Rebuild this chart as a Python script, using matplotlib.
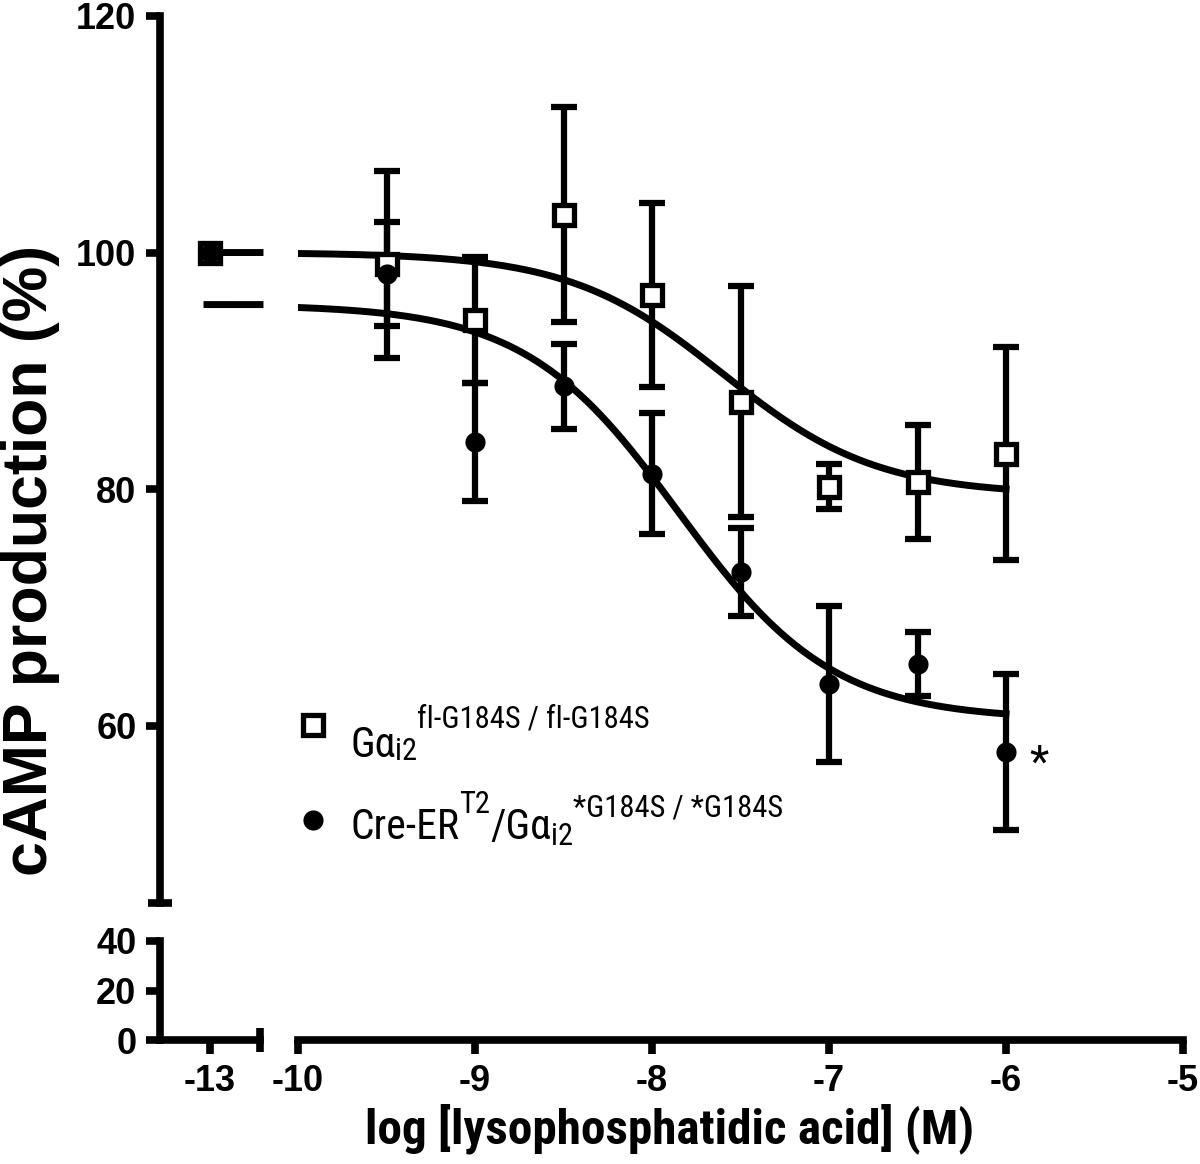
import matplotlib
matplotlib.use("Agg")
import matplotlib.pyplot as plt
import numpy as np
from matplotlib import font_manager

# log [LPA] (M) and cAMP production (%)
log_lpa = [-9.5, -9.0, -8.5, -8.0, -7.5, -7.0, -6.5, -6.0]
basal_x = [-13.0]
basal_y = [100.0]

fl_mean = [99.0, 94.3, 103.2, 96.4, 87.4, 80.2, 80.6, 83.0]
fl_sem = [7.9, 5.3, 9.1, 7.8, 9.8, 1.9, 4.8, 9.0]
cre_mean = [98.2, 84.0, 88.7, 81.3, 73.0, 63.5, 65.2, 57.8]
cre_sem = [4.4, 5.0, 3.6, 5.1, 3.7, 6.6, 2.7, 6.6]

# sigmoid fit: top, bottom, logEC50, hill slope
fl_fit = [100.0, 79.5, -7.6, 1.0]
cre_fit = [95.6, 60.5, -7.85, 1.0]

upper_yticks = [60, 80, 100, 120]
lower_yticks = [0, 20, 40]
left_xticks = [-13]
right_xticks = [-10, -9, -8, -7, -6, -5]

# the labels in the original are set in a narrow sans
names = {f.name for f in font_manager.fontManager.ttflist}
narrow, k = "Liberation Sans", 0.86
for cand in ("Liberation Sans Narrow", "Roboto Condensed"):
    if cand in names:
        narrow, k = cand, 1.0
        break
plt.rcParams["font.family"] = ["Liberation Sans", "DejaVu Sans"]
nfam = [narrow, "DejaVu Sans"]


def sigmoid(x, p):
    top, bottom, ec, h = p
    return bottom + (top - bottom) / (1 + 10 ** ((x - ec) * h))


LW = 5.5
fig = plt.figure(figsize=(12, 11.64), dpi=100)
xl, wl = 160 / 1200, 100 / 1200
xr, wr = 298 / 1200, 885 / 1200
yu, hu = 1 - 903 / 1164, 887 / 1164
yd, hd = 1 - 1040 / 1164, 99 / 1164

ul = fig.add_axes([xl, yu, wl, hu])
ur = fig.add_axes([xr, yu, wr, hu])
ll = fig.add_axes([xl, yd, wl, hd])
lr = fig.add_axes([xr, yd, wr, hd])

for ax in (ul, ll):
    ax.set_xlim(-13.5, -12.5)
for ax in (ur, lr):
    ax.set_xlim(-10, -5)
for ax in (ul, ur):
    ax.set_ylim(45, 120)
for ax in (ll, lr):
    ax.set_ylim(0, 40)

for ax in (ul, ur, ll, lr):
    ax.patch.set_alpha(0)
    for s in ax.spines.values():
        s.set_visible(False)
        s.set_linewidth(LW)
        s.set_capstyle("projecting")
    ax.set_xticks([])
    ax.set_yticks([])
    ax.tick_params(which="both", width=LW, length=10, labelsize=26, pad=7)

tickfont = dict(fontweight="bold")
ul.spines["left"].set_visible(True)
ul.set_yticks(upper_yticks)
ul.set_yticklabels([str(v) for v in upper_yticks], **tickfont)
ul.set_yticks([45], minor=True)
ul.tick_params(axis="y", which="minor", direction="inout", length=17)

ll.spines["left"].set_visible(True)
ll.spines["bottom"].set_visible(True)
ll.set_yticks(lower_yticks)
ll.set_yticklabels([str(v) for v in lower_yticks], **tickfont)
ll.set_xticks(left_xticks)
ll.set_xticklabels([str(v) for v in left_xticks], **tickfont)
ll.set_yticks([40], minor=True)
ll.set_xticks([-12.5], minor=True)
ll.tick_params(which="minor", direction="inout", length=17)

lr.spines["bottom"].set_visible(True)
lr.set_xticks(right_xticks)
lr.set_xticklabels([str(v) for v in right_xticks], **tickfont)
lr.set_xticks([-10], minor=True)
lr.tick_params(axis="x", which="minor", direction="inout", length=17)

# fitted curves
xr_fit = np.linspace(-10, -6, 300)
xl_fit = np.linspace(-13.03, -12.5, 20)
for p in (fl_fit, cre_fit):
    ur.plot(xr_fit, sigmoid(xr_fit, p), color="k", lw=5, zorder=2)
    ul.plot(xl_fit, sigmoid(xl_fit, p), color="k", lw=5, zorder=2, clip_on=False)

# error bars
for m, e in ((fl_mean, fl_sem), (cre_mean, cre_sem)):
    ur.errorbar(log_lpa, m, yerr=e, fmt="none", ecolor="k", elinewidth=4.5,
                capsize=9.5, capthick=4.5, zorder=3, clip_on=False)

sq = dict(marker="s", ms=14.5, mfc="white", mec="black", mew=3.8, ls="none", zorder=4)
dot = dict(marker="o", ms=14.5, mfc="black", mec="black", mew=0, ls="none", zorder=5)
ur.plot(log_lpa, fl_mean, clip_on=False, **sq)
ur.plot(log_lpa, cre_mean, clip_on=False, **dot)
ul.plot(basal_x, basal_y, **sq)
ul.plot(basal_x, basal_y, **dot)

ur.annotate("*", xy=(log_lpa[-1], cre_mean[-1]), xytext=(24, -9),
            textcoords="offset points", ha="center", va="center",
            fontsize=32, family=nfam)


# legend
def rich_label(ax, x, y, parts):
    t = ax.text(x, y, parts[0][0], transform=ax.transAxes, fontsize=parts[0][1] * k,
                family=nfam, va="baseline", ha="left")
    for s, size, dy in parts[1:]:
        t = ax.annotate(s, xy=(1, y), xycoords=(t, "axes fraction"), xytext=(0, dy),
                        textcoords="offset points", fontsize=size * k, family=nfam,
                        va="baseline", ha="left")


ur.plot([0.017], [0.2007], transform=ur.transAxes, clip_on=False, **sq)
ur.plot([0.017], [0.0936], transform=ur.transAxes, clip_on=False, **dot)
rich_label(ur, 0.0588, 0.1646, [("Gα", 30, 0), ("i2", 22, -2),
                                ("fl-G184S / fl-G184S", 22, 21)])
rich_label(ur, 0.0588, 0.0722, [("Cre-ER", 30, 0), ("T2", 22, 19), ("/Gα", 30, 0),
                                ("i2", 22, -4), ("*G184S / *G184S", 22, 16)])

fig.text(670 / 1200, 1 - 1143 / 1164, "log [lysophosphatidic acid] (M)",
         ha="center", va="baseline", fontsize=35.5 * (k if k == 1.0 else 0.83),
         fontweight="bold", family=nfam)
fig.text(47 / 1200, 1 - 560 / 1164, "cAMP production (%)", rotation=90,
         rotation_mode="anchor", ha="center", va="baseline", fontsize=45,
         fontweight="bold")

fig.savefig("out.png", dpi=100)
